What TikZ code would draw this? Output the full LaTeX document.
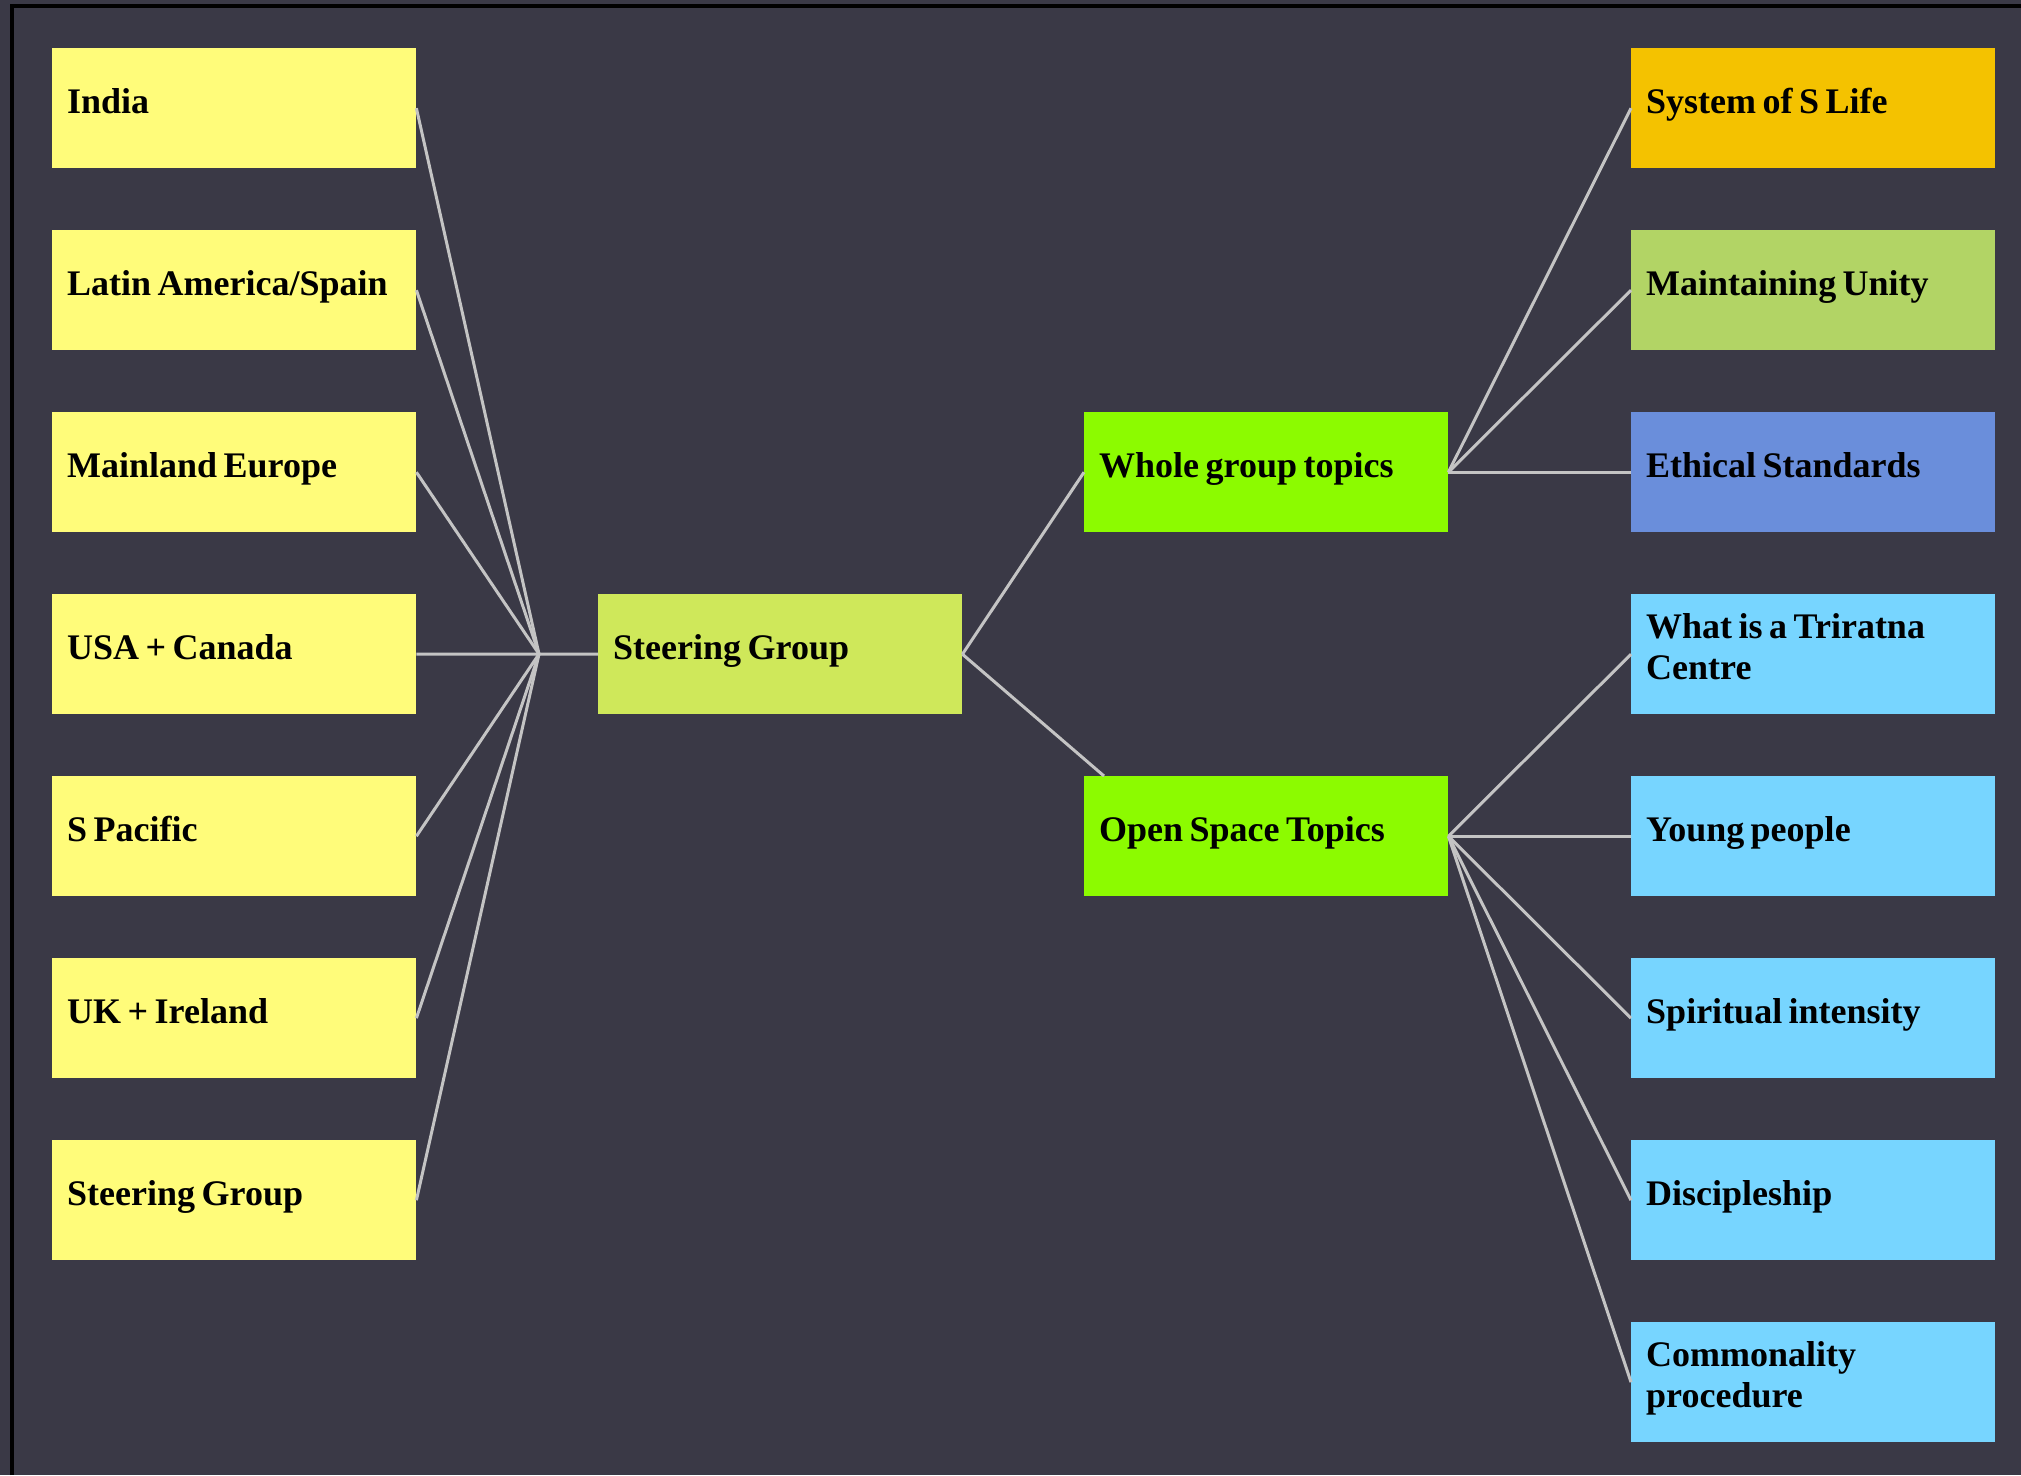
\documentclass[tikz,border=0pt]{standalone}
\usepackage{fontspec}
\setmainfont{Liberation Serif}
\definecolor{bg}{RGB}{58,57,70}
\definecolor{yellowbox}{RGB}{255,252,122}
\definecolor{sgcol}{RGB}{207,232,90}
\definecolor{greenbox}{RGB}{140,251,0}
\definecolor{orangebox}{RGB}{244,194,0}
\definecolor{maintbox}{RGB}{178,212,101}
\definecolor{ethicbox}{RGB}{106,142,219}
\definecolor{bluebox}{RGB}{119,213,255}
\definecolor{linegray}{RGB}{196,196,196}
\newcommand\topstrut{\spaceskip=0.18em plus 0.05em\relax\rule{0pt}{28.7pt}}
\newcommand\botstrut{\rule[-18.7pt]{0pt}{18.7pt}}
\tikzset{
  box/.style={rectangle, minimum width=364pt, minimum height=120pt, text width=334pt,
    inner xsep=15pt, inner ysep=0pt, align=left, anchor=north west, text=black,
    font=\fontsize{36}{41}\selectfont\bfseries,
    execute at begin node=\topstrut, execute at end node=\botstrut},
  link/.style={draw=linegray, line width=3pt},
}
\begin{document}
\begin{tikzpicture}[x=1pt,y=-1pt]
\useasboundingbox (0,0) rectangle (2021,1475);
\fill[bg] (0,0) rectangle (2021,1475);
\draw[black, line width=4pt] (12,1475) -- (12,6) -- (2021,6);
% left column
\node[box, fill=yellowbox] (l0) at (52,48) {India};
\node[box, fill=yellowbox] (l1) at (52,230) {Latin America/Spain};
\node[box, fill=yellowbox] (l2) at (52,412) {Mainland Europe};
\node[box, fill=yellowbox] (l3) at (52,594) {USA + Canada};
\node[box, fill=yellowbox] (l4) at (52,776) {S Pacific};
\node[box, fill=yellowbox] (l5) at (52,958) {UK + Ireland};
\node[box, fill=yellowbox] (l6) at (52,1140) {Steering Group};
% centre
\node[box, fill=sgcol] (sg) at (598,594) {Steering Group};
\node[box, fill=greenbox] (wg) at (1084,412) {Whole group topics};
\node[box, fill=greenbox] (os) at (1084,776) {Open Space Topics};
% right column
\node[box, fill=orangebox] (r0) at (1631,48) {System of S Life};
\node[box, fill=maintbox] (r1) at (1631,230) {Maintaining Unity};
\node[box, fill=ethicbox] (r2) at (1631,412) {Ethical Standards};
\node[box, fill=bluebox] (r3) at (1631,594) {What is a Triratna\\Centre};
\node[box, fill=bluebox] (r4) at (1631,776) {Young people};
\node[box, fill=bluebox] (r5) at (1631,958) {Spiritual intensity};
\node[box, fill=bluebox] (r6) at (1631,1140) {Discipleship};
\node[box, fill=bluebox] (r7) at (1631,1322) {Commonality\\procedure};
% connectors
\coordinate (hub) at (539,654);
\foreach \i in {0,...,6} \draw[link] (l\i.east) -- (hub);
\draw[link] (hub) -- (sg.west);
\draw[link] (sg.east) -- (wg.west);
\draw[link] (sg.east) -- ([xshift=20pt]os.north west);
\foreach \i in {0,1,2} \draw[link] (wg.east) -- (r\i.west);
\foreach \i in {3,...,7} \draw[link] (os.east) -- (r\i.west);
\end{tikzpicture}
\end{document}
